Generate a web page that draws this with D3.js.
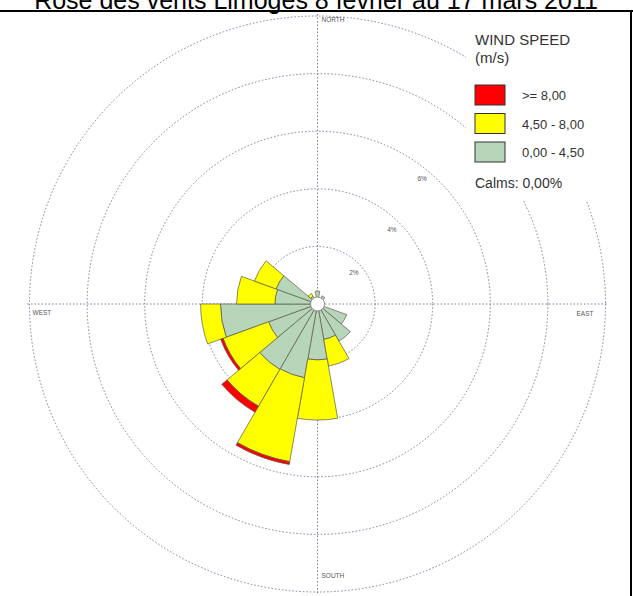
<!DOCTYPE html>
<html>
<head>
<meta charset="utf-8">
<script src="https://cdn.jsdelivr.net/npm/d3@7"></script>
<style>
  body { margin: 0; background: #fff; }
  svg { display: block; font-family: "Liberation Sans", Arial, sans-serif; }
  .grid { fill: none; stroke: #7c7c9c; stroke-width: 1; stroke-dasharray: 1.5,2; }
  .small_label { font-size: 6.5px; fill: #555; }
  .legend_text { font-size: 13px; fill: #333; }
</style>
</head>
<body>
<script>
// Wind directions (sector centres, degrees from north)
var directions = [0, 20, 40, 60, 80, 100, 120, 140, 160, 180, 200, 220, 240, 260, 280, 300, 320, 340];

// Frequency (%) per speed class
var pct_low  = [0.45, 0, 0.33, 0, 0, 0, 1.08, 1.49, 1.25, 1.94, 2.60, 2.62, 1.81, 3.37, 1.48, 1.53, 0.31, 0];
var pct_mid  = [0, 0, 0, 0, 0, 0, 0, 0, 0.94, 2.09, 2.96, 1.48, 1.68, 0.69, 1.33, 0.80, 0.11, 0];
var pct_high = [0, 0, 0, 0, 0, 0, 0, 0, 0, 0, 0.10, 0.24, 0.09, 0, 0, 0, 0, 0];

var speed_keys = ["low", "mid", "high"];
var speed_labels = [">= 8,00", "4,50 - 8,00", "0,00 - 4,50"];
var speed_colors = {"low": "#b7d6b9", "mid": "#ffff00", "high": "#ff0000"};

var ring_values = [2, 4, 6, 8, 10];
var ring_labels = ["2%", "4%", "6%"];
var compass_labels = ["NORTH", "EAST", "SOUTH", "WEST"];

var title_text = "Rose des vents Limoges 8 février au 17 mars 2011";
var calms_text = "Calms: 0,00%";

(function(){
    var width = 633,
        height = 596,
        cx = 317.5,
        cy = 304,
        outer = 288,
        hole = 7;

    var svg = d3.select("body")
            .append("svg")
            .attr("width", width)
            .attr("height", height);

    // scales
    var scale_r = d3.scaleLinear()
            .domain([0, 10])
            .range([0, outer]);

    var half = Math.PI / 18; // half of a 20 degree sector
    var to_rad = function(d){ return d * Math.PI / 180; };

    // stack the three speed classes
    var table = directions.map(function(d, i){
        return {dir: d, low: pct_low[i], mid: pct_mid[i], high: pct_high[i]};
    });
    var stacked = d3.stack().keys(speed_keys)(table);

    var g = svg.append("g")
            .attr("transform", "translate(" + cx + "," + cy + ")");

    // dotted rings
    g.selectAll("circle.grid")
            .data(ring_values)
            .enter()
            .append("circle")
            .attr("class", "grid")
            .attr("r", function(d){ return scale_r(d); });

    // cross lines
    g.append("line").attr("class", "grid")
            .attr("x1", -outer - 2).attr("x2", outer + 2)
            .attr("y1", 0).attr("y2", 0);
    g.append("line").attr("class", "grid")
            .attr("x1", 0).attr("x2", 0)
            .attr("y1", -outer - 2).attr("y2", outer + 2);

    // sectors
    var arc = d3.arc()
            .innerRadius(function(d){ return scale_r(d[0]); })
            .outerRadius(function(d){ return scale_r(d[1]); })
            .startAngle(function(d){ return to_rad(d.data.dir) - half; })
            .endAngle(function(d){ return to_rad(d.data.dir) + half; });

    stacked.forEach(function(layer){
        g.append("g")
                .selectAll("path")
                .data(layer.filter(function(d){ return d[1] - d[0] > 0; }))
                .enter()
                .append("path")
                .attr("d", arc)
                .style("fill", speed_colors[layer.key])
                .style("stroke", "#5a5a46")
                .style("stroke-width", 0.7);
    });

    // calm circle
    g.append("circle")
            .attr("r", hole)
            .style("fill", "#fff")
            .style("stroke", "#777")
            .style("stroke-width", 0.8);

    // ring labels
    g.selectAll("text.ring")
            .data(ring_labels)
            .enter()
            .append("text")
            .attr("class", "small_label")
            .attr("text-anchor", "middle")
            .attr("x", function(d, i){ return (scale_r(ring_values[i]) - 10) * Math.sin(to_rad(50 - i * 5)); })
            .attr("y", function(d, i){ return -(scale_r(ring_values[i]) - 10) * Math.cos(to_rad(50 - i * 5)) + 2; })
            .text(function(d){ return d; });

    // compass labels
    g.append("text").attr("class", "small_label")
            .attr("x", 4).attr("y", -outer + 6).text(compass_labels[0]);
    g.append("text").attr("class", "small_label")
            .attr("x", outer - 12).attr("y", 12)
            .attr("text-anchor", "end").text(compass_labels[1]);
    g.append("text").attr("class", "small_label")
            .attr("x", 4).attr("y", outer - 14).text(compass_labels[2]);
    g.append("text").attr("class", "small_label")
            .attr("x", -outer + 3).attr("y", 11).text(compass_labels[3]);

    // legend
    var legend = svg.append("g");
    legend.append("rect")
            .attr("x", 466).attr("y", 22)
            .attr("width", 164).attr("height", 178)
            .style("fill", "#fff");
    legend.append("text")
            .attr("x", 475).attr("y", 45)
            .style("font-size", "15px").style("fill", "#333")
            .text("WIND SPEED");
    legend.append("text")
            .attr("x", 475).attr("y", 63)
            .style("font-size", "15px").style("fill", "#333")
            .text("(m/s)");

    var legend_keys = ["high", "mid", "low"];
    legend.selectAll("rect.swatch")
            .data(legend_keys)
            .enter()
            .append("rect")
            .attr("x", 475)
            .attr("y", function(d, i){ return 85 + i * 28.5; })
            .attr("width", 30)
            .attr("height", 20)
            .style("fill", function(d){ return speed_colors[d]; })
            .style("stroke", "#333")
            .style("stroke-width", 1);
    legend.selectAll("text.item")
            .data(speed_labels)
            .enter()
            .append("text")
            .attr("class", "legend_text")
            .attr("x", 522)
            .attr("y", function(d, i){ return 100 + i * 28.5; })
            .text(function(d){ return d; });
    legend.append("text")
            .attr("x", 475).attr("y", 188)
            .style("font-size", "14px").style("fill", "#333")
            .text(calms_text);

    // title, cut by the frame as in the source picture
    svg.append("text")
            .attr("x", 316)
            .attr("y", 9)
            .attr("text-anchor", "middle")
            .style("font-size", "25px")
            .style("fill", "#000")
            .text(title_text);

    // frame
    svg.append("line")
            .attr("x1", 0).attr("x2", width)
            .attr("y1", 11).attr("y2", 11)
            .style("stroke", "#000").style("stroke-width", 2);
    svg.append("line")
            .attr("x1", 631).attr("x2", 631)
            .attr("y1", 11).attr("y2", height)
            .style("stroke", "#000").style("stroke-width", 2);
}());
</script>
</body>
</html>
